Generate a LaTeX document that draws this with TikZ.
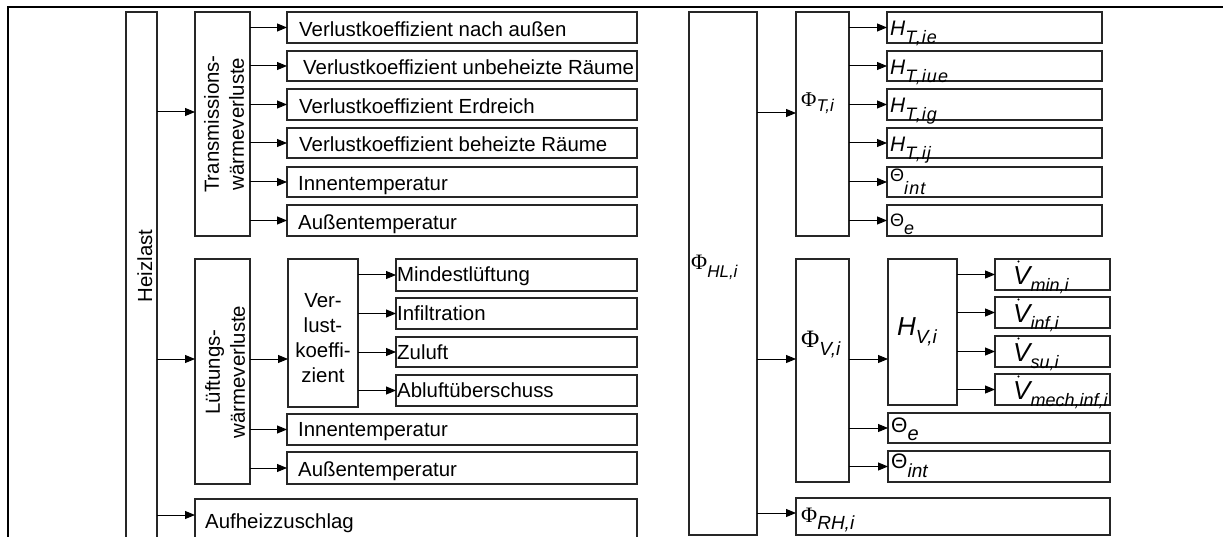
\documentclass[tikz,border=0pt]{standalone}
\usepackage{fontspec}
\setmainfont{Liberation Sans}
\newfontfamily\serfont{Liberation Serif}
\newfontfamily\subfont[LetterSpace=6]{Liberation Sans}
\usetikzlibrary{arrows.meta}
\tikzset{
  box/.style={draw=black!85, line width=1.2pt, inner sep=0pt, outer sep=0pt, anchor=north west},
  arr/.style={draw=black, line width=1pt, -{Triangle[length=10pt,width=8pt]}},
  txt/.style={inner sep=0pt, anchor=base west, font=\fontsize{20.4}{24}\selectfont},
  lab/.style={inner sep=0pt, anchor=base west},
  rot/.style={inner sep=0pt, rotate=90, align=center, font=\fontsize{20.4}{25}\selectfont},
  vdot/.style={fill=black, draw=none},
}
\newcommand\bx[5]{\node[box, minimum width={#4pt-#2pt}, minimum height={#5pt-#3pt}] (#1) at (#2,#3) {};}
\newcommand\sbs[3]{\raisebox{-#1pt}{\fontsize{#2}{#2}\selectfont\itshape #3}}
\newcommand\sbw[3]{\raisebox{-#1pt}{\subfont\fontsize{#2}{#2}\selectfont\itshape #3}}
\newcommand\Phibig[1]{{\serfont\fontsize{#1}{#1}\selectfont Φ}}
\begin{document}
\begin{tikzpicture}[x=1pt,y=-1pt]
\useasboundingbox (0,0) rectangle (1223,537);
\clip (0,0) rectangle (1223,537);
\draw[line width=2pt] (8,545) -- (8,7) -- (1230,7);

% ---------------- left tree ----------------
\bx{heiz}{126}{12}{157}{560}
\bx{trans}{195}{12}{250}{236}
\bx{t1}{287}{12}{637}{43}
\bx{t2}{287}{51}{637}{81}
\bx{t3}{287}{89}{637}{120}
\bx{t4}{287}{128}{637}{158}
\bx{t5}{287}{167}{637}{197}
\bx{t6}{287}{205}{637}{236}
\bx{lueft}{195}{259}{250}{484}
\bx{verl}{288}{259}{358}{407}
\bx{m1}{396}{259}{637}{291}
\bx{m2}{396}{298}{637}{329}
\bx{m3}{396}{337}{637}{367}
\bx{m4}{396}{375}{637}{406}
\bx{l5}{287}{414}{637}{445}
\bx{l6}{287}{452}{637}{484}
\bx{aufh}{195}{499}{637}{560}

\node[rot, anchor=base] at (152,266) {Heizlast};
\node[rot] at (224,124) {Transmissions-\\wärmeverluste};
\node[rot] at (225,372) {Lüftungs-\\wärmeverluste};
\node[inner sep=0pt, align=center, font=\fontsize{20.4}{25}\selectfont] at (323,338) {Ver-\\lust-\\koeffi-\\zient};

\node[txt] at (299,36.5) {Verlustkoeffizient nach außen};
\node[txt] at (303,75) {Verlustkoeffizient unbeheizte Räume};
\node[txt] at (299,113.5) {Verlustkoeffizient Erdreich};
\node[txt] at (299,152) {Verlustkoeffizient beheizte Räume};
\node[txt] at (298,191) {Innentemperatur};
\node[txt] at (298,229.5) {Außentemperatur};
\node[txt] at (397,281) {Mindestlüftung};
\node[txt] at (397,320.5) {Infiltration};
\node[txt] at (397,359) {Zuluft};
\node[txt] at (397,397.5) {Abluftüberschuss};
\node[txt] at (298,436.5) {Innentemperatur};
\node[txt] at (298,476) {Außentemperatur};
\node[txt] at (205,528) {Aufheizzuschlag};

\draw[arr] (heiz.east |- 0,112) -- (trans.west |- 0,112);
\foreach \n in {t1,t2,t3,t4,t5,t6} \draw[arr] (trans.east |- \n) -- (\n.west);
\draw[arr] (heiz.east |- 0,359) -- (lueft.west |- 0,359);
\draw[arr] (lueft.east |- 0,359) -- (verl.west |- 0,359);
\foreach \n in {m1,m2,m3,m4} \draw[arr] (verl.east |- \n) -- (\n.west);
\foreach \n in {l5,l6} \draw[arr] (lueft.east |- \n) -- (\n.west);
\draw[arr] (heiz.east |- 0,515) -- (aufh.west |- 0,515);

% ---------------- right tree ----------------
\bx{phl}{689}{12}{757}{535}
\bx{pt}{796}{12}{849}{236}
\bx{h1}{887}{12}{1102}{43}
\bx{h2}{887}{51}{1102}{81}
\bx{h3}{887}{89}{1102}{120}
\bx{h4}{887}{128}{1102}{158}
\bx{h5}{887}{167}{1102}{197}
\bx{h6}{887}{205}{1102}{236}
\bx{pv}{796}{259}{849}{482}
\bx{hv}{888}{259}{957}{405}
\bx{v1}{995}{259}{1110}{290}
\bx{v2}{995}{297}{1110}{328}
\bx{v3}{995}{336}{1110}{367}
\bx{v4}{995}{374}{1110}{405}
\bx{v5}{888}{413}{1110}{443}
\bx{v6}{888}{451}{1110}{482}
\bx{prh}{796}{498}{1110}{535}

\node[lab] at (691,270) {\Phibig{22}\sbs{8}{17}{HL,i}};
\node[lab] at (801,107) {\Phibig{21}\sbs{5}{17}{T,i}};
\node[lab] at (890,36) {\fontsize{21}{21}\selectfont\itshape H\sbw{8}{18}{T,ie}};
\node[lab] at (890,75) {\fontsize{21}{21}\selectfont\itshape H\sbw{8}{18}{T,iue}};
\node[lab] at (890,113) {\fontsize{21}{21}\selectfont\itshape H\sbw{8}{18}{T,ig}};
\node[lab] at (890,152) {\fontsize{21}{21}\selectfont\itshape H\sbw{8}{18}{T,ij}};
\node[lab] at (890,182) {\fontsize{18}{18}\selectfont Θ\sbw{13}{18}{int}};
\node[lab] at (890,227) {\fontsize{18}{18}\selectfont Θ\sbs{8}{18}{e}};
\node[lab] at (801,347) {\Phibig{25}\sbs{8}{19}{V,i}};
\node[lab] at (897,335) {\fontsize{26}{26}\selectfont\itshape H\sbs{8}{19}{V,i}};
\node[lab] at (1013,284) {\fontsize{26}{26}\selectfont\itshape V\sbs{7}{18}{min,i}};
\node[lab] at (1013,322) {\fontsize{26}{26}\selectfont\itshape V\sbs{7}{18}{inf,i}};
\node[lab] at (1013,361) {\fontsize{26}{26}\selectfont\itshape V\sbs{7}{18}{su,i}};
\node[lab] at (1013,399) {\fontsize{26}{26}\selectfont\itshape V\sbs{7}{18}{mech,inf,i}};
\foreach \yy in {261.5,299.5,338.5,376.5} \fill[vdot] (1018.5,\yy) circle (1.2pt);
\node[lab] at (891,432) {\fontsize{21}{21}\selectfont Θ\sbs{8}{20}{e}};
\node[lab] at (891,468) {\fontsize{21}{21}\selectfont Θ\sbs{9}{19}{int}};
\node[lab] at (801,522) {\Phibig{22}\sbs{7}{19}{RH,i}};

\draw[arr] (phl.east |- 0,113) -- (pt.west |- 0,113);
\foreach \n in {h1,h2,h3,h4,h5,h6} \draw[arr] (pt.east |- \n) -- (\n.west);
\draw[arr] (phl.east |- 0,359) -- (pv.west |- 0,359);
\draw[arr] (pv.east |- 0,359) -- (hv.west |- 0,359);
\foreach \n in {v1,v2,v3,v4} \draw[arr] (hv.east |- \n) -- (\n.west);
\foreach \n in {v5,v6} \draw[arr] (pv.east |- \n) -- (\n.west);
\draw[arr] (phl.east |- 0,513) -- (prh.west |- 0,513);
\end{tikzpicture}
\end{document}
